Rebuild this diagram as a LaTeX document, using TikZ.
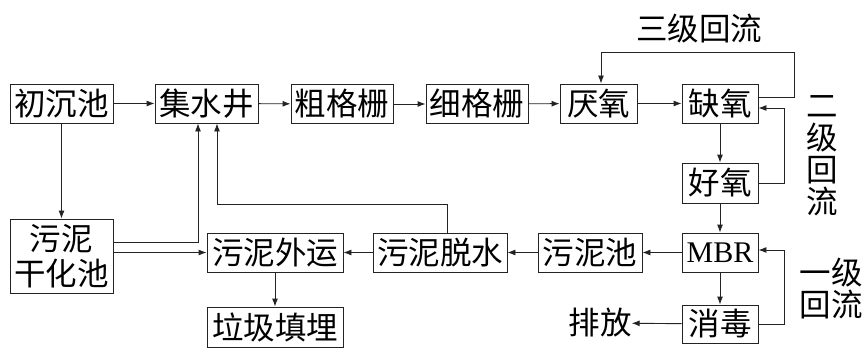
\documentclass[tikz,border=0pt]{standalone}
\usepackage{fontspec}
\setmainfont{Liberation Serif}
\newfontfamily\cjk{Noto Sans CJK SC}
\usetikzlibrary{arrows.meta, positioning}
\definecolor{flowline}{RGB}{35,35,35}

\tikzset{
  unit/.style={rectangle, draw=flowline, line width=0.9pt, minimum height=39pt, inner sep=0pt, align=center, font=\cjk\fontsize{31.5}{32}\selectfont},
  flow/.style={draw=flowline, line width=0.9pt, -{Latex[length=8pt,width=6pt]}},
  tag/.style={inner sep=0pt, align=center, font=\cjk\fontsize{31.5}{32}\selectfont}
}

\begin{document}
\begin{tikzpicture}[x=1pt, y=-1pt]
  \useasboundingbox (0,0) rectangle (868,361);

  % top line of the process
  \node[unit, minimum width=103pt] (chuchen) at (61.5,103.5) {初沉池};
  \node[unit, minimum width=103pt] (jishui) at (206.5,103.5) {集水井};
  \node[unit, minimum width=102pt] (cuge) at (342,104) {粗格栅};
  \node[unit, minimum width=102pt] (xige) at (477,104) {细格栅};
  \node[unit, minimum width=77pt] (yanyang) at (598.5,103.5) {厌氧};
  \node[unit, minimum width=76pt] (queyang) at (720,103.5) {缺氧};
  \node[unit, minimum width=76pt, minimum height=40pt] (haoyang) at (720,183) {好氧};
  \node[unit, minimum width=76pt, font=\fontsize{30}{32}\selectfont] (mbr) at (720,252.5) {MBR};
  \node[unit, minimum width=76pt, minimum height=38pt] (xiaodu) at (720,324) {消毒};

  % sludge line
  \node[unit, minimum width=104pt] (wunichi) at (590,252.5) {污泥池};
  \node[unit, minimum width=134pt] (tuoshui) at (440,252.5) {污泥脱水};
  \node[unit, minimum width=136pt] (waiyun) at (275,252.5) {污泥外运};
  \node[unit, minimum width=136pt, minimum height=40pt] (tianmai) at (275,327) {垃圾填埋};
  \node[unit, minimum width=103pt, minimum height=74pt] (ganhua) at (61.5,256) {污泥\\[3pt]干化池};

  % labels
  \node[tag] (paifang) at (600,323) {排放};
  \node[tag] (sanji) at (699,29) {三级回流};
  \node[tag] (erji) at (822,156) {二\\级\\回\\流};
  \node[tag] (yiji) at (831,288) {一级\\回流};

  \draw[flow] (chuchen) -- (jishui);
  \draw[flow] (jishui) -- (cuge);
  \draw[flow] (cuge) -- (xige);
  \draw[flow] (xige) -- (yanyang);
  \draw[flow] (yanyang) -- (queyang);
  \draw[flow] (queyang) -- (haoyang);
  \draw[flow] (haoyang) -- (mbr);
  \draw[flow] (mbr) -- (xiaodu);
  \draw[flow] (xiaodu) -- (paifang);
  \draw[flow] (mbr) -- (wunichi);
  \draw[flow] (wunichi) -- (tuoshui);
  \draw[flow] (tuoshui) -- (waiyun);
  \draw[flow] (waiyun) -- (tianmai);
  \draw[flow] (chuchen) -- (ganhua);
  \draw[flow] (ganhua.east |- waiyun.west) -- (waiyun.west);
  \draw[flow] ([yshift=14pt]ganhua.east) -| ([xshift=-8.5pt]jishui.south);
  \draw[flow] ([xshift=7pt]tuoshui.north) -- ++(0,-28) -| ([xshift=10.5pt]jishui.south);

  % return flows
  \draw[flow] ([yshift=6.5pt]queyang.east) -- ++(36,0) -- ++(0,-45) -| ([xshift=2.5pt]yanyang.north);
  \draw[flow] (haoyang.east) -- ++(26,0) |- ([yshift=-4.5pt]queyang.east);
  \draw[flow] (xiaodu.east) -- ++(26,0) |- ([yshift=2.5pt]mbr.east);
\end{tikzpicture}
\end{document}
